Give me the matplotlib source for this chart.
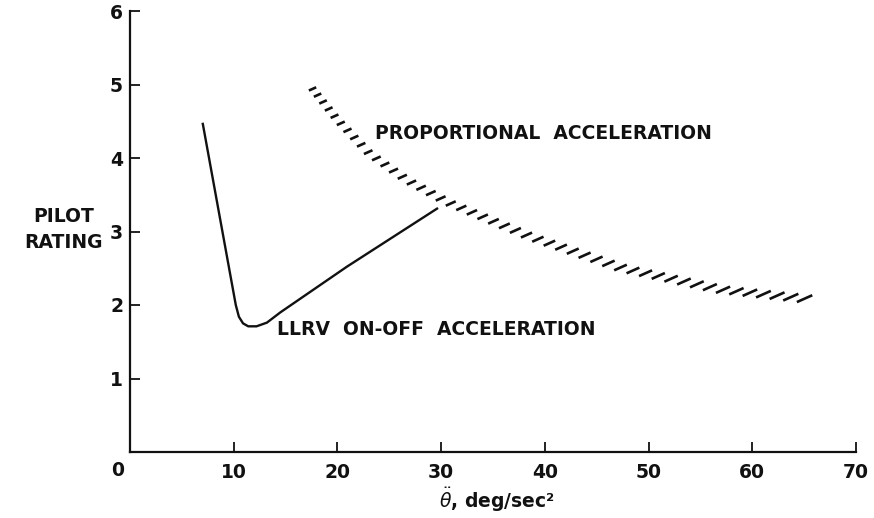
import numpy as np
import matplotlib
matplotlib.use("Agg")
import matplotlib.pyplot as plt
from matplotlib.collections import LineCollection

# LLRV on-off acceleration curve
llrv_x = [7.0, 10.2, 10.5, 10.9, 11.4, 12.2, 13.2, 14.5, 20.9, 29.7]
llrv_y = [4.48, 2.00, 1.84, 1.75, 1.71, 1.71, 1.76, 1.90, 2.52, 3.32]

# proportional acceleration boundary (hatched band)
prop_x = [17.6, 20.0, 23.1, 26.7, 30.6, 38.6, 47.5, 57.0, 66.1]
prop_y = [4.94, 4.52, 4.06, 3.70, 3.40, 2.93, 2.50, 2.21, 2.07]

x_ticks = [10, 20, 30, 40, 50, 60, 70]
y_ticks = [1, 2, 3, 4, 5, 6]

ink = "#111111"
fs = 13.5

fig = plt.figure(figsize=(8.74, 5.18), dpi=100)
ax = fig.add_axes([130 / 874, 66 / 518, 726 / 874, 441 / 518])
ax.set_xlim(0, 70)
ax.set_ylim(0, 6)

for side in ["top", "right"]:
    ax.spines[side].set_visible(False)
for side in ["left", "bottom"]:
    ax.spines[side].set_linewidth(1.6)
    ax.spines[side].set_color(ink)

ax.set_xticks(x_ticks)
ax.set_yticks(y_ticks)
ax.tick_params(direction="in", length=7, width=1.3, color=ink,
               labelsize=fs, labelcolor=ink)
ax.tick_params(axis="x", pad=8)
ax.tick_params(axis="y", pad=5)
for lab in ax.get_xticklabels() + ax.get_yticklabels():
    lab.set_fontweight("bold")

ax.text(-1.15, -0.25, "0", ha="center", va="center", fontsize=fs,
        fontweight="bold", color=ink, clip_on=False)

ax.plot(llrv_x, llrv_y, color=ink, lw=1.7, solid_capstyle="butt",
        solid_joinstyle="round")

# hatched band: short slanted strokes along the boundary, drawn in display space
pts = ax.transData.transform(np.column_stack([prop_x, prop_y]))
d = np.hypot(np.diff(pts[:, 0]), np.diff(pts[:, 1]))
s = np.concatenate([[0], np.cumsum(d)])
total = s[-1]
segs = []
pos = 0.0
ang = np.deg2rad(24)
while pos <= total:
    f = pos / total
    cx = np.interp(pos, s, pts[:, 0])
    cy = np.interp(pos, s, pts[:, 1])
    half = (8 + 9 * f) / 2
    p0 = (cx - half * np.cos(ang), cy - half * np.sin(ang))
    p1 = (cx + half * np.cos(ang), cy + half * np.sin(ang))
    segs.append(ax.transData.inverted().transform([p0, p1]))
    pos += 8 + 6 * np.sqrt(f)
ax.add_collection(LineCollection(segs, colors=ink, linewidths=1.9,
                                 capstyle="butt"))

ax.text(23.6, 4.34, "PROPORTIONAL  ACCELERATION", ha="left", va="center",
        fontsize=fs, fontweight="bold", color=ink)
ax.text(14.2, 1.66, "LLRV  ON-OFF  ACCELERATION", ha="left", va="center",
        fontsize=fs, fontweight="bold", color=ink)
ax.text(-6.4, 3.03, "PILOT\nRATING", ha="center", va="center",
        fontsize=fs, fontweight="bold", color=ink, linespacing=1.45,
        clip_on=False)
ax.text(35.4, -0.65, r"$\ddot{\theta}$, deg/sec²", ha="center",
        va="center", fontsize=fs, fontweight="bold", color=ink,
        clip_on=False)

fig.savefig("out.png", dpi=100)
